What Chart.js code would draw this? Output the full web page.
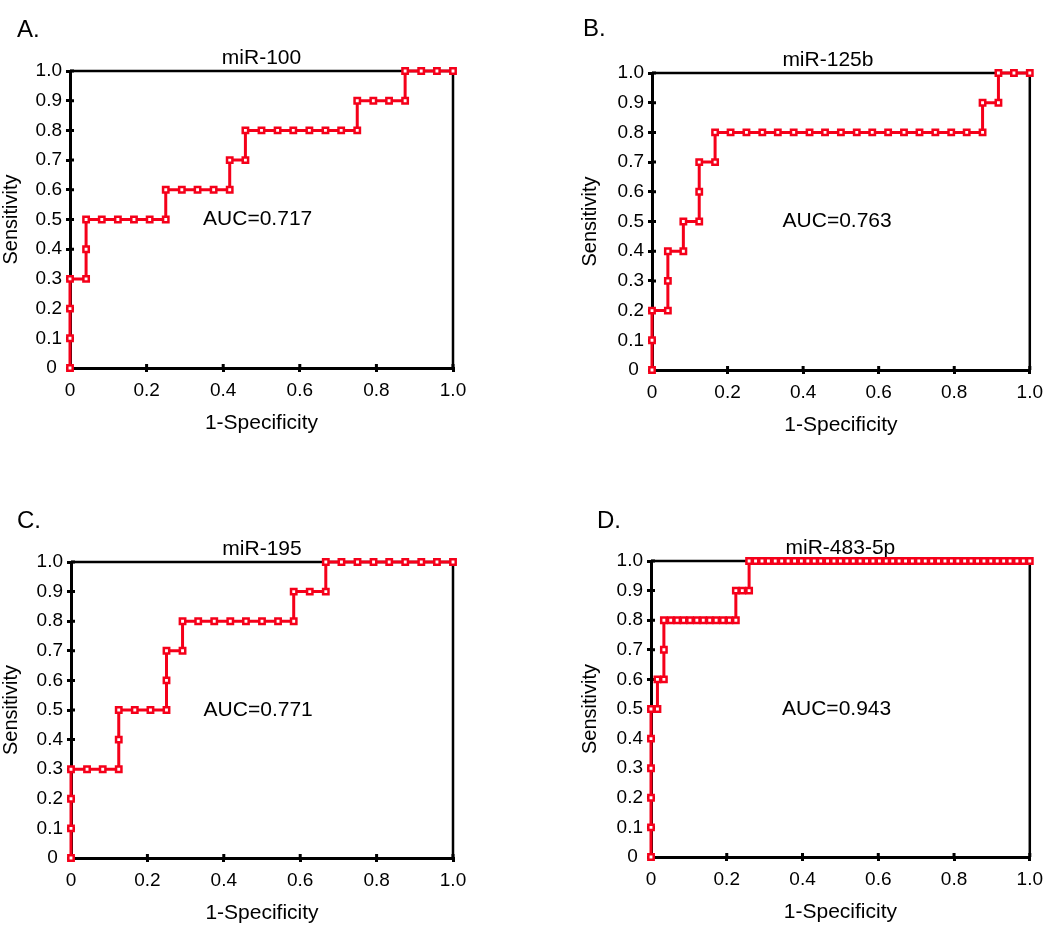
<!DOCTYPE html>
<html><head><meta charset="utf-8">
<script src="https://cdn.jsdelivr.net/npm/chart.js@4.4.1/dist/chart.umd.min.js"></script>
<style>
html,body{margin:0;padding:0;background:#fff;width:1050px;height:927px;overflow:hidden;position:relative}
canvas{position:absolute}
</style></head><body>
<canvas id="cA" width="525" height="463" style="left:0;top:0;width:525px;height:463px"></canvas>
<canvas id="cB" width="525" height="463" style="left:525px;top:0;width:525px;height:463px"></canvas>
<canvas id="cC" width="525" height="464" style="left:0;top:463px;width:525px;height:464px"></canvas>
<canvas id="cD" width="525" height="464" style="left:525px;top:463px;width:525px;height:464px"></canvas>
<script>
// ---- data ----
const yTickLabels = ['0 ', '0.1', '0.2', '0.3', '0.4', '0.5', '0.6', '0.7', '0.8', '0.9', '1.0'];
const xTickLabels = ['0', '0.2', '0.4', '0.6', '0.8', '1.0'];
const titles = ['miR-100', 'miR-125b', 'miR-195', 'miR-483-5p'];
const panelLetters = ['A.', 'B.', 'C.', 'D.'];
const aucLabels = ['AUC=0.717', 'AUC=0.763', 'AUC=0.771', 'AUC=0.943'];
const xTitle = '1-Specificity';
const yTitle = 'Sensitivity';

const fprA = [0,0,0,0,.042,.042,.042,.083,.125,.167,.208,.25,.25,.292,.333,.375,.417,.417,.458,.458,.5,.542,.583,.625,.667,.708,.75,.75,.792,.833,.875,.875,.917,.958,1];
const tprA = [0,.1,.2,.3,.3,.4,.5,.5,.5,.5,.5,.5,.6,.6,.6,.6,.6,.7,.7,.8,.8,.8,.8,.8,.8,.8,.8,.9,.9,.9,.9,1,1,1,1];

const fprB = [0,0,0,.042,.042,.042,.083,.083,.125,.125,.125,.167,.167,.208,.25,.292,.333,.375,.417,.458,.5,.542,.583,.625,.667,.708,.75,.792,.833,.875,.875,.917,.917,.958,1];
const tprB = [0,.1,.2,.2,.3,.4,.4,.5,.5,.6,.7,.7,.8,.8,.8,.8,.8,.8,.8,.8,.8,.8,.8,.8,.8,.8,.8,.8,.8,.8,.9,.9,1,1,1];

const fprC = [0,0,0,0,.042,.083,.125,.125,.125,.167,.208,.25,.25,.25,.292,.292,.333,.375,.417,.458,.5,.542,.583,.583,.625,.667,.667,.708,.75,.792,.833,.875,.917,.958,1];
const tprC = [0,.1,.2,.3,.3,.3,.3,.4,.5,.5,.5,.5,.6,.7,.7,.8,.8,.8,.8,.8,.8,.8,.8,.9,.9,.9,1,1,1,1,1,1,1,1,1];

const fprD = [0,0,0,0,0,0,.017,.017,.034,.034,.034,.052,.069,.086,.103,.121,.138,.155,.172,.19,.207,.224,.224,.241,.259,.259,
  .276,.293,.31,.328,.345,.362,.379,.397,.414,.431,.448,.466,.483,.5,.517,.534,.552,.569,.586,.603,.621,.638,.655,.672,.69,
  .707,.724,.741,.759,.776,.793,.81,.828,.845,.862,.879,.897,.914,.931,.948,.966,.983,1];
const tprD = [0,.1,.2,.3,.4,.5,.5,.6,.6,.7,.8,.8,.8,.8,.8,.8,.8,.8,.8,.8,.8,.8,.9,.9,.9,1,
  1,1,1,1,1,1,1,1,1,1,1,1,1,1,1,1,1,1,1,1,1,1,1,1,1,
  1,1,1,1,1,1,1,1,1,1,1,1,1,1,1,1,1,1];

// ---- styling / layout ----
const RED = '#f5001a';
const FONT = "'Liberation Sans', Arial, Helvetica, sans-serif";
Chart.defaults.font.family = FONT;
Chart.defaults.color = '#000';
const X_AXIS_H = 66;
const AUC_POS = {x: 0.49, y: 0.5};

const panels = [
  {id:'cA', fpr:fprA, tpr:tprA, k:0, padL:0,  yW:70, padT:71, padR:72, padB:29, titleDx:0,   letter:{x:17, y:30}},
  {id:'cB', fpr:fprB, tpr:tprB, k:1, padL:54, yW:73, padT:73, padR:17, padB:27, titleDx:-13, letter:{x:58, y:29}},
  {id:'cC', fpr:fprC, tpr:tprC, k:2, padL:0,  yW:71, padT:99, padR:72, padB:3,  titleDx:0,   letter:{x:17, y:58}},
  {id:'cD', fpr:fprD, tpr:tprD, k:3, padL:54, yW:72, padT:98, padR:17, padB:4,  titleDx:0,   letter:{x:72, y:58}}
];

const framePlugin = {
  id: 'frame',
  beforeDatasetsDraw(chart, args, opts) {
    const {ctx, chartArea: a, scales} = chart;
    const p = opts.panel;
    ctx.save();
    ctx.strokeStyle = '#000';
    ctx.lineWidth = 2.5;
    ctx.beginPath();
    ctx.moveTo(a.left, a.top); ctx.lineTo(a.right, a.top); ctx.lineTo(a.right, a.bottom);
    ctx.stroke();
    // inward half of tick marks
    ctx.lineWidth = 3;
    ctx.beginPath();
    scales.y.ticks.forEach((t, i) => {
      const y = scales.y.getPixelForTick(i);
      ctx.moveTo(a.left, y); ctx.lineTo(a.left + 4, y);
    });
    scales.x.ticks.forEach((t, i) => {
      const x = scales.x.getPixelForTick(i);
      ctx.moveTo(x, a.bottom); ctx.lineTo(x, a.bottom - 4);
    });
    ctx.stroke();
    ctx.fillStyle = '#000';
    // panel title
    ctx.font = '21px ' + FONT;
    ctx.textAlign = 'center'; ctx.textBaseline = 'middle';
    ctx.fillText(titles[p.k], (a.left + a.right) / 2 + p.titleDx, a.top - 13);
    // AUC
    ctx.fillText(aucLabels[p.k], scales.x.getPixelForValue(AUC_POS.x), scales.y.getPixelForValue(AUC_POS.y));
    // panel letter
    ctx.font = '24px ' + FONT;
    ctx.textAlign = 'left';
    ctx.fillText(panelLetters[p.k], p.letter.x, p.letter.y);
    ctx.restore();
  }
};

panels.forEach(p => {
  const pts = p.fpr.map((v, i) => ({x: v, y: p.tpr[i]}));
  new Chart(document.getElementById(p.id), {
    type: 'scatter',
    data: {datasets: [{
      data: pts, showLine: true, borderColor: RED, borderWidth: 3, tension: 0,
      pointStyle: 'rect', pointRadius: 3.8, pointBorderWidth: 2.5,
      pointBorderColor: RED, pointBackgroundColor: '#fff', clip: false
    }]},
    options: {
      responsive: false, animation: false, events: [], devicePixelRatio: 1,
      layout: {padding: {left: p.padL, top: p.padT, right: p.padR, bottom: p.padB}},
      plugins: {legend: {display: false}, tooltip: {enabled: false}, title: {display: false}, frame: {panel: p}},
      scales: {
        x: {
          type: 'linear', min: 0, max: 1,
          ticks: {stepSize: 0.2, color: '#000', font: {size: 19}, padding: 7, maxRotation: 0, autoSkip: false,
                  callback: (v, i) => xTickLabels[i]},
          grid: {drawOnChartArea: false, drawTicks: true, tickLength: 4, color: '#000', lineWidth: 3},
          border: {display: true, color: '#000', width: 3},
          title: {display: true, text: xTitle, color: '#000', font: {size: 21, lineHeight: 1}, padding: {top: 0, bottom: 0}},
          afterFit: s => { s.height = X_AXIS_H; }
        },
        y: {
          type: 'linear', min: 0, max: 1,
          ticks: {stepSize: 0.1, color: '#000', font: {size: 19}, padding: 4, autoSkip: false,
                  callback: (v, i) => yTickLabels[i]},
          grid: {drawOnChartArea: false, drawTicks: true, tickLength: 4, color: '#000', lineWidth: 3},
          border: {display: true, color: '#000', width: 3},
          title: {display: true, text: yTitle, color: '#000', font: {size: 20, lineHeight: 1}, padding: {top: 1, bottom: 0}},
          afterFit: s => { s.width = p.yW; }
        }
      }
    },
    plugins: [framePlugin]
  });
});
</script>
</body></html>
